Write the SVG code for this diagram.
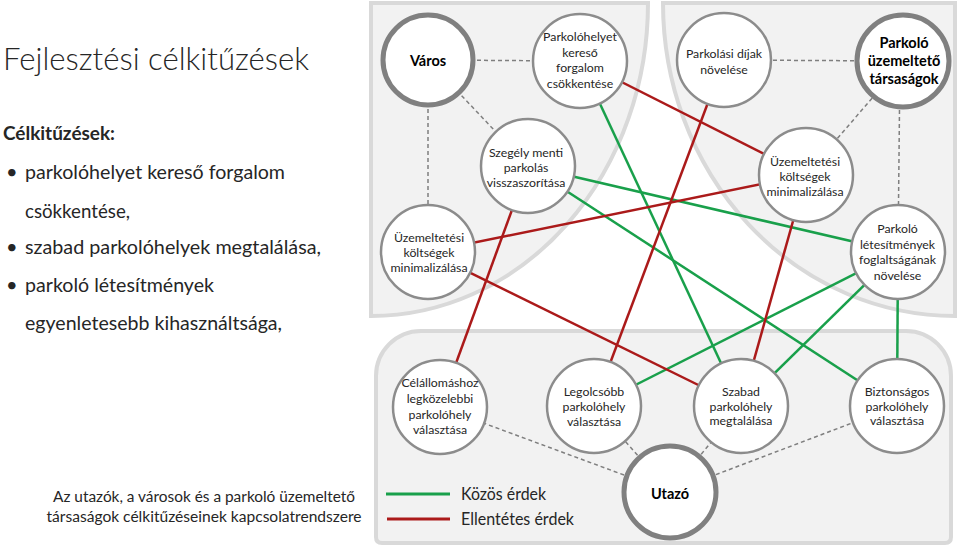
<svg xmlns="http://www.w3.org/2000/svg" width="960" height="546" viewBox="0 0 960 546">
<style>
.panel{fill:#f2f2f2;stroke:#d9d9d9;stroke-width:4}
.node{fill:#ffffff;stroke:#8c8c8c;stroke-width:2.5}
.main{fill:#ffffff;stroke:#808080;stroke-width:5}
.nt{font-family:Lato,"Liberation Sans",sans-serif;font-size:12.3px;fill:#262626;text-anchor:middle}
.mt{font-family:Lato,"Liberation Sans",sans-serif;font-size:14.5px;font-weight:bold;fill:#000;text-anchor:middle}
.dash{stroke:#7f7f7f;stroke-width:1.5;stroke-dasharray:4 3;fill:none}
.g{stroke:#19a04b;stroke-width:2.5;fill:none}
.r{stroke:#ab1a1a;stroke-width:2.5;fill:none}
.lt{font-family:Lato,"Liberation Sans",sans-serif;fill:#262626}
</style>
<rect width="960" height="546" fill="#ffffff"/>
<g id="left-text">
<text class="lt" x="3" y="70" font-size="32" font-weight="300" textLength="306" lengthAdjust="spacingAndGlyphs">Fejlesztési célkitűzések</text>
<text class="lt" x="3" y="140" font-size="19" font-weight="bold" fill="#000" textLength="112" lengthAdjust="spacingAndGlyphs">Célkitűzések:</text>
<text class="lt" x="6" y="179" font-size="20">•</text>
<text class="lt" x="25" y="179" font-size="20" textLength="260" lengthAdjust="spacingAndGlyphs">parkolóhelyet kereső forgalom</text>
<text class="lt" x="25" y="218" font-size="20" textLength="105" lengthAdjust="spacingAndGlyphs">csökkentése,</text>
<text class="lt" x="6" y="254" font-size="20">•</text>
<text class="lt" x="25" y="254" font-size="20" textLength="296" lengthAdjust="spacingAndGlyphs">szabad parkolóhelyek megtalálása,</text>
<text class="lt" x="6" y="292" font-size="20">•</text>
<text class="lt" x="25" y="292" font-size="20" textLength="189" lengthAdjust="spacingAndGlyphs">parkoló létesítmények</text>
<text class="lt" x="25" y="330" font-size="20" textLength="257" lengthAdjust="spacingAndGlyphs">egyenletesebb kihasználtsága,</text>
<text class="lt" x="204" y="502" font-size="15.5" text-anchor="middle" textLength="302" lengthAdjust="spacingAndGlyphs">Az utazók, a városok és a parkoló üzemeltető</text>
<text class="lt" x="204" y="522" font-size="15.5" text-anchor="middle" textLength="315" lengthAdjust="spacingAndGlyphs">társaságok célkitűzéseinek kapcsolatrendszere</text>
</g>
<g id="panels">
<path class="panel" d="M371,3 H648 A277,313 0 0 1 371,316 Z"/>
<path class="panel" d="M955,3 H663 A292,313 0 0 0 955,316 Z"/>
<path class="panel" d="M382,543 Q376,543 376,537 V376 A45,45 0 0 1 421,331 H906 A45,45 0 0 1 951,376 V537 Q951,543 945,543 Z"/>
</g>
<g id="legend">
<line x1="386" y1="494" x2="450" y2="494" stroke="#19a04b" stroke-width="3"/>
<line x1="387" y1="519" x2="450" y2="519" stroke="#ab1a1a" stroke-width="3"/>
<text class="lt" x="461" y="499.5" font-size="16.5" textLength="85" lengthAdjust="spacingAndGlyphs">Közös érdek</text>
<text class="lt" x="461" y="524.5" font-size="16.5" textLength="113" lengthAdjust="spacingAndGlyphs">Ellentétes érdek</text>
</g>
<g id="connectors">
<line class="dash" x1="428" y1="60" x2="580" y2="61"/>
<line class="dash" x1="428" y1="60" x2="528" y2="166"/>
<line class="dash" x1="428" y1="60" x2="428" y2="252"/>
<line class="dash" x1="724" y1="60" x2="904" y2="61"/>
<line class="dash" x1="904" y1="61" x2="806" y2="175"/>
<line class="dash" x1="900" y1="61" x2="898" y2="252"/>
<line class="dash" x1="670" y1="492" x2="440" y2="407"/>
<line class="dash" x1="670" y1="492" x2="594" y2="406"/>
<line class="dash" x1="670" y1="492" x2="741" y2="406"/>
<line class="dash" x1="670" y1="492" x2="897" y2="406"/>
<line class="g" x1="528" y1="166" x2="898" y2="252"/>
<line class="g" x1="528" y1="166" x2="897" y2="406"/>
<line class="g" x1="580" y1="61" x2="741" y2="406"/>
<line class="g" x1="898" y1="252" x2="594" y2="406"/>
<line class="g" x1="898" y1="252" x2="741" y2="406"/>
<line class="g" x1="898" y1="252" x2="897" y2="406"/>
<line class="r" x1="580" y1="61" x2="806" y2="175"/>
<line class="r" x1="724" y1="60" x2="594" y2="406"/>
<line class="r" x1="428" y1="252" x2="806" y2="175"/>
<line class="r" x1="528" y1="166" x2="440" y2="407"/>
<line class="r" x1="428" y1="252" x2="741" y2="406"/>
<line class="r" x1="806" y1="175" x2="741" y2="406"/>
</g>
<g id="n-varos"><circle class="main" cx="428" cy="60" r="45"/><text class="mt" x="428" y="66">Város</text></g>
<g id="n-parkolohelyet"><circle class="node" cx="580" cy="61" r="47"/><text class="nt"><tspan x="580" y="41">Parkolóhelyet</tspan><tspan x="580" y="56.5">kereső</tspan><tspan x="580" y="72">forgalom</tspan><tspan x="580" y="87.5">csökkentése</tspan></text></g>
<g id="n-dijak"><circle class="node" cx="724" cy="60" r="47"/><text class="nt"><tspan x="724" y="58">Parkolási díjak</tspan><tspan x="724" y="74">növelése</tspan></text></g>
<g id="n-uzemelteto"><circle class="main" cx="903" cy="61" r="46"/><text class="mt"><tspan x="904" y="47.5">Parkoló</tspan><tspan x="904" y="65.5">üzemeltető</tspan><tspan x="904" y="83.5">társaságok</tspan></text></g>
<g id="n-szegely"><circle class="node" cx="528" cy="166" r="47"/><text class="nt"><tspan x="526" y="157">Szegély menti</tspan><tspan x="526" y="172">parkolás</tspan><tspan x="526" y="187">visszaszorítása</tspan></text></g>
<g id="n-koltseg-varos"><circle class="node" cx="428" cy="252" r="47"/><text class="nt"><tspan x="429" y="242">Üzemeltetési</tspan><tspan x="429" y="257">költségek</tspan><tspan x="429" y="272">minimalizálása</tspan></text></g>
<g id="n-koltseg-uzem"><circle class="node" cx="806" cy="175" r="47"/><text class="nt"><tspan x="805" y="166">Üzemeltetési</tspan><tspan x="805" y="181">költségek</tspan><tspan x="805" y="196">minimalizálása</tspan></text></g>
<g id="n-foglaltsag"><circle class="node" cx="898" cy="252" r="47"/><text class="nt"><tspan x="897.5" y="233">Parkoló</tspan><tspan x="897.5" y="248.5">létesítmények</tspan><tspan x="897.5" y="264">foglaltságának</tspan><tspan x="897.5" y="279.5">növelése</tspan></text></g>
<g id="n-celallomas"><circle class="node" cx="440" cy="407" r="47"/><text class="nt"><tspan x="440" y="387">Célállomáshoz</tspan><tspan x="440" y="403">legközelebbi</tspan><tspan x="440" y="418.5">parkolóhely</tspan><tspan x="440" y="434">választása</tspan></text></g>
<g id="n-legolcsobb"><circle class="node" cx="594" cy="406" r="47"/><text class="nt"><tspan x="594" y="396">Legolcsóbb</tspan><tspan x="594" y="411">parkolóhely</tspan><tspan x="594" y="426">választása</tspan></text></g>
<g id="n-szabad"><circle class="node" cx="741" cy="406" r="47"/><text class="nt"><tspan x="741" y="396">Szabad</tspan><tspan x="741" y="410.5">parkolóhely</tspan><tspan x="741" y="425">megtalálása</tspan></text></g>
<g id="n-biztonsagos"><circle class="node" cx="897" cy="406" r="47"/><text class="nt"><tspan x="897" y="396">Biztonságos</tspan><tspan x="897" y="410.5">parkolóhely</tspan><tspan x="897" y="425">választása</tspan></text></g>
<g id="n-utazo"><circle class="main" cx="670" cy="492" r="46"/><text class="mt" x="670" y="499">Utazó</text></g>
</svg>
